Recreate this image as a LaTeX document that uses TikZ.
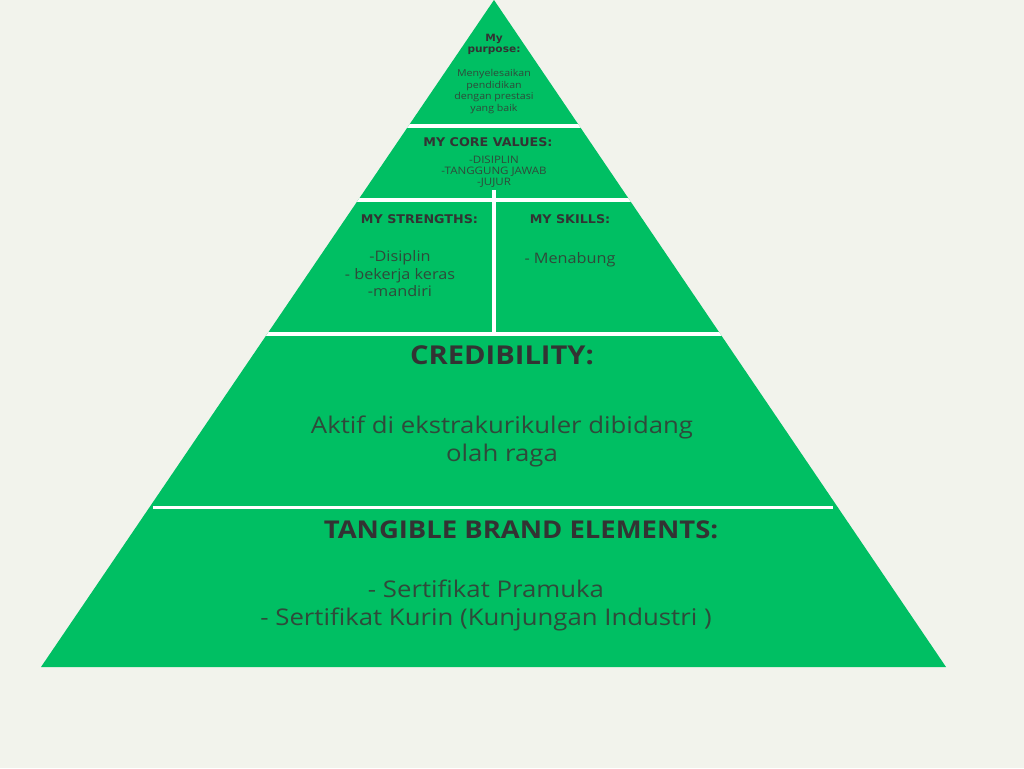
\documentclass[tikz,border=0pt]{standalone}
\usepackage{fontspec}
\setmainfont{Open Sans}[FakeStretch=1.12]
\newfontfamily\heavyfont[FakeStretch=1.06]{DejaVu Sans}
\definecolor{bgcol}{HTML}{F2F3EC}
\definecolor{pgreen}{HTML}{00BF63}
\definecolor{textgray}{HTML}{333333}
\definecolor{bodygray}{HTML}{2F4A3A}
\begin{document}
\begin{tikzpicture}[x=1pt,y=-1pt,
  txt/.style={text=textgray, align=center, inner sep=0pt},
  small/.style={txt, text=bodygray, font=\fontsize{9.5}{11.4}\selectfont},
  heavycap/.style={txt, font=\heavyfont\bfseries\fontsize{12}{14}\selectfont},
  body/.style={txt, text=bodygray, font=\fontsize{14.5}{17.5}\selectfont},
  gapline/.style={draw=white, line width=4pt}]
\fill[bgcol] (0,0) rectangle (1024,768);
\useasboundingbox (0,0) rectangle (1024,768);
\coordinate (apex) at (494,0);
\coordinate (bl) at (41,667);
\coordinate (br) at (946,667);
\fill[pgreen] (apex) -- (bl) -- (br) -- cycle;
\begin{scope}
  \clip (apex) -- (bl) -- (br) -- cycle;
  \draw[gapline] (0,125.5) -- (1024,125.5);
  \draw[gapline] (0,200) -- (1024,200);
  \draw[gapline] (0,334) -- (1024,334);
  \draw[gapline] (494,190) -- (494,334);
\end{scope}
\coordinate (cl) at (153,507);
\coordinate (cr) at (833,507);
\draw[draw=white, line width=3pt] (cl) -- (cr);
% top
\node[txt, font=\heavyfont\bfseries\fontsize{10}{11}\selectfont] (purpose) at (494,44) {My\\purpose:};
\node[small] (purposetxt) at (494,91.5) {Menyelesaikan\\pendidikan\\dengan prestasi\\yang baik};
% core values
\node[heavycap] (core) at (488,142) {MY CORE VALUES:};
\node[small, font=\fontsize{10.3}{11.2}\selectfont] (coretxt) at (494,171.5) {-DISIPLIN\\-TANGGUNG JAWAB\\-JUJUR};
% strengths / skills
\node[heavycap] (strengths) at (419.5,219) {MY STRENGTHS:};
\node[body] (strtxt) at (400,274) {-Disiplin\\- bekerja keras\\-mandiri};
\node[heavycap] (skills) at (570,219) {MY SKILLS:};
\node[body] (skilltxt) at (570,260) {- Menabung};
% credibility
\node[txt, font=\bfseries\fontsize{26}{30}\selectfont] (cred) at (502,355) {CREDIBILITY:};
\node[txt, text=bodygray, font=\fontsize{23}{28}\selectfont] (credtxt) at (502,441) {Aktif di ekstrakurikuler dibidang\\olah raga};
% tangible
\node[txt, font=\bfseries\fontsize{24.5}{30}\selectfont] (tang) at (521,530) {TANGIBLE BRAND ELEMENTS:};
\node[txt, text=bodygray, font=\fontsize{23}{28}\selectfont] (tangtxt) at (486,605) {- Sertifikat Pramuka\\- Sertifikat Kurin (Kunjungan Industri )};
\end{tikzpicture}
\end{document}
